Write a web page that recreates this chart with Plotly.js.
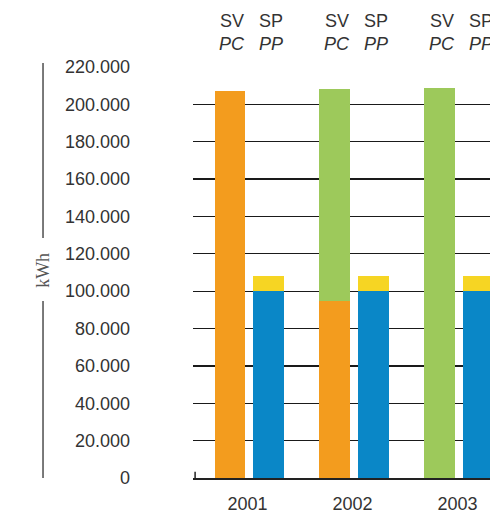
<!DOCTYPE html>
<html>
<head>
<meta charset="utf-8">
<script src="https://cdn.plot.ly/plotly-3.0.1.min.js"></script>
<style>html,body{margin:0;padding:0;background:#fff;}#chart{width:490px;height:513px;}</style>
</head>
<body>
<div id="chart"></div>
<script>
// ---- data ----
var years = ['2001', '2002', '2003'];
var svOrange = [207000, 95000, 0];
var svGreen = [0, 113000, 209000];
var spBlue = [100000, 100000, 100000];
var spYellow = [8000, 8000, 8000];
var topLabels = ['SV', 'SP'];
var subLabels = ['PC', 'PP'];

// ---- layout helpers ----
var OFF = 0.19, W = 0.29;
var idx = years.map(function (_, i) { return i; });
var xSV = idx.map(function (i) { return i - OFF + 0.02; });
var xSP = idx.map(function (i) { return i + OFF + 0.01; });

function bar(x, y, color, name) {
  return { type: 'bar', x: x, y: y, width: W, name: name,
    marker: { color: color, line: { width: 0 } }, hoverinfo: 'skip' };
}

var traces = [
  bar(xSV, svOrange, '#f39c1e', 'SV PC'),
  bar(xSV, svGreen, '#9dc95b', 'SV PC (2)'),
  bar(xSP, spBlue, '#0a87c7', 'SP PP'),
  bar(xSP, spYellow, '#f6d523', 'SP PP (2)')
];

var txtFont = { family: 'Liberation Sans, Arial, Helvetica, sans-serif', size: 18, color: '#333' };
var annotations = [];
idx.forEach(function (i) {
  [xSV[i], xSP[i]].forEach(function (xv, k) {
    annotations.push({ x: xv + 0.025, y: 1.112, xref: 'x', yref: 'paper', text: topLabels[k],
      showarrow: false, font: txtFont, xanchor: 'center', yanchor: 'middle' });
    annotations.push({ x: xv + 0.025, y: 1.057, xref: 'x', yref: 'paper', text: '<i>' + subLabels[k] + '</i>',
      showarrow: false, font: txtFont, xanchor: 'center', yanchor: 'middle' });
  });
});
annotations.push({ x: -0.505, y: 0.504, xref: 'paper', yref: 'paper', text: 'kWh', textangle: -90,
  showarrow: false, font: { family: 'Liberation Serif, Times New Roman, serif', size: 18, color: '#555' },
  xanchor: 'center', yanchor: 'middle' });

var lineStyle = { color: '#333', width: 1.3 };
var shapes = [
  { type: 'line', xref: 'paper', yref: 'paper', x0: -0.505, x1: -0.505, y0: 1.0097, y1: 0.584, line: lineStyle },
  { type: 'line', xref: 'paper', yref: 'paper', x0: -0.505, x1: -0.505, y0: 0.4307, y1: 0, line: lineStyle },
  { type: 'line', xref: 'x', yref: 'paper', x0: -0.5, x1: -0.5, y0: 0, y1: 0.015, line: { color: '#222', width: 1.5 } }
];

var layout = {
  width: 490, height: 513,
  margin: { l: 193, r: 0, t: 67, b: 35, pad: 0 },
  paper_bgcolor: '#fff', plot_bgcolor: '#fff',
  barmode: 'stack',
  showlegend: false,
  separators: ',.',
  font: txtFont,
  xaxis: {
    range: [-0.52, 2.31], tickvals: idx, ticktext: years,
    ticks: '', showgrid: false, zeroline: false,
    showline: true, linecolor: '#222', linewidth: 1.5,
    ticklabelstandoff: 9, tickfont: txtFont, fixedrange: true
  },
  xaxis2: {
    overlaying: 'x', side: 'top', anchor: 'y', range: [-0.52, 2.31],
    tickvals: [-0.5, 0.5, 1.5], ticks: 'inside', ticklen: 9, tickwidth: 1.5, tickcolor: '#222',
    showticklabels: false, showgrid: false, zeroline: false,
    showline: true, linecolor: '#222', linewidth: 1.5
  },
  yaxis: {
    range: [0, 220000], dtick: 20000, tickformat: ',d',
    showgrid: true, gridcolor: '#1a1a1a', gridwidth: 1.3,
    zeroline: false, showline: false, ticks: '',
    ticklabelstandoff: 62, tickfont: txtFont, fixedrange: true
  },
  annotations: annotations,
  shapes: shapes
};

Plotly.newPlot('chart', traces, layout, { displayModeBar: false, staticPlot: true });
</script>
</body>
</html>
